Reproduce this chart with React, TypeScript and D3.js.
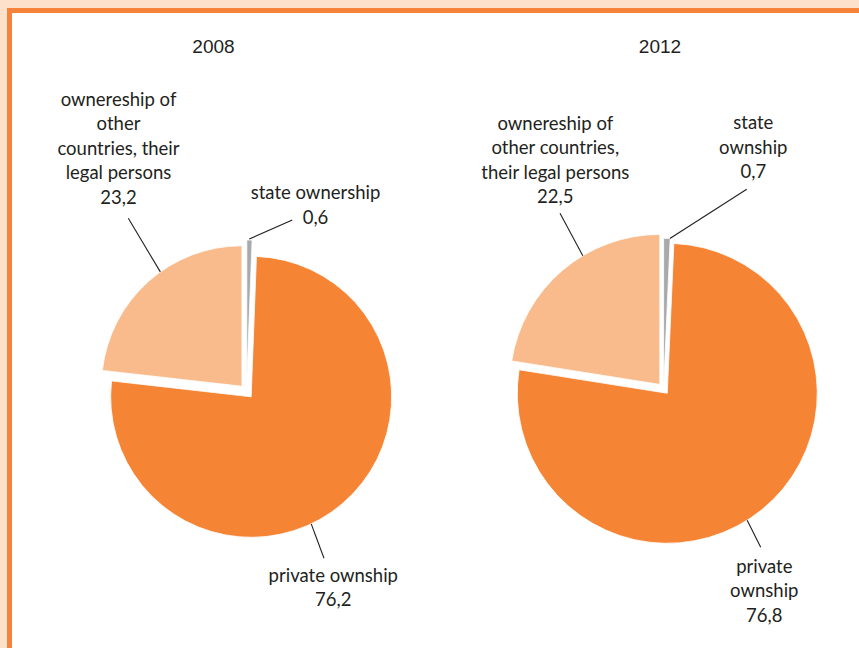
import React from "react";
import * as d3 from "d3";

// ---- data ----
const years = ["2008", "2012"];
const categories2008 = ["state ownership", "private ownship", "ownereship of other countries, their legal persons"];
const categories2012 = ["state ownship", "private ownship", "ownereship of other countries, their legal persons"];
const values2008 = [0.6, 76.2, 23.2];
const values2012 = [0.7, 76.8, 22.5];
// label wrapping as shown in the picture
const labelLines2008 = [["state ownership"], ["private ownship"], ["ownereship of", "other", "countries, their", "legal persons"]];
const labelLines2012 = [["state", "ownship"], ["private", "ownship"], ["ownereship of", "other countries,", "their legal persons"]];

const colors = ["#A7A9AC", "#F58434", "#F9BB8B"];

// ---- layout ----
const W = 859;
const H = 648;
const LH = 24.4;

const layouts = [
  {
    cx: 246.6, cy: 391.5, r: 140.5, explode: [11, 7, 7], titleX: 213.5,
    labels: [
      { x: 315.5, y: 199.3, from: [292.3, 220], angle: 1, extra: 1 },
      { x: 333.3, y: 581.7, from: [324, 558.3], angle: 154.7, extra: 0 },
      { x: 118.5, y: 106, from: [128.3, 218.3], angle: 324.5, extra: 0 },
    ],
  },
  {
    cx: 663.6, cy: 388.8, r: 150, explode: [0.5, 5.8, 5.8], titleX: 660,
    labels: [
      { x: 753.3, y: 129.3, from: [746.7, 189.3], angle: 2.4, extra: 0 },
      { x: 764.3, y: 572.7, from: [760.7, 547.3], angle: 147.8, extra: 0 },
      { x: 555.3, y: 130, from: [560, 213.3], angle: 329.1, extra: 0 },
    ],
  },
];

const fmt = (v: number) => d3.format(".1f")(v).replace(".", ",");

function Pie({ values, cats, lines, lay, year }: any) {
  const pie = d3.pie<number>().sort(null).value((d) => d)(values);
  const arc = d3.arc<any>().innerRadius(0).outerRadius(lay.r);
  return (
    <g>
      <text x={lay.titleX} y={52.5} textAnchor="middle" fontFamily="'Liberation Sans', Arial, sans-serif" fontSize={19} fill="#231F20">
        {year}
      </text>
      {pie.map((p, i) => {
        const mid = (p.startAngle + p.endAngle) / 2;
        const ox = lay.cx + Math.sin(mid) * lay.explode[i];
        const oy = lay.cy - Math.cos(mid) * lay.explode[i];
        return (
          <path key={cats[i]} d={arc(p) as string} transform={`translate(${ox},${oy})`} fill={colors[i]} stroke="#ffffff" strokeWidth={0.8} strokeLinejoin="miter" />
        );
      })}
      {pie.map((p, i) => {
        const mid = (p.startAngle + p.endAngle) / 2;
        const L = lay.labels[i];
        const ox = lay.cx + Math.sin(mid) * lay.explode[i];
        const oy = lay.cy - Math.cos(mid) * lay.explode[i];
        const a = (L.angle * Math.PI) / 180;
        const ex = ox + Math.sin(a) * (lay.r + L.extra);
        const ey = oy - Math.cos(a) * (lay.r + L.extra);
        const ls: string[] = lines[i];
        return (
          <g key={"l" + cats[i]}>
            <line x1={L.from[0]} y1={L.from[1]} x2={ex} y2={ey} stroke="#231F20" strokeWidth={1.1} />
            <text textAnchor="middle" fontFamily="Lato, 'Open Sans', sans-serif" fontSize={18.5} fill="#231F20">
              {ls.map((t, k) => (
                <tspan key={k} x={L.x} y={L.y + k * LH}>{t}</tspan>
              ))}
              <tspan x={L.x} y={L.y + ls.length * LH}>{fmt(values[i])}</tspan>
            </text>
          </g>
        );
      })}
    </g>
  );
}

export default function App() {
  return (
    <svg width={W} height={H} style={{ position: "absolute", left: 0, top: 0, display: "block" }}>
      <rect x={0} y={0} width={W} height={H} fill="#ffffff" />
      <rect x={0} y={0} width={W} height={8} fill="#FDE1CB" />
      <rect x={0} y={0} width={7} height={H} fill="#FDE1CB" />
      <rect x={7} y={8} width={W - 7} height={5} fill="#F5843A" />
      <rect x={7} y={8} width={5} height={H - 8} fill="#F5843A" />
      <Pie values={values2008} cats={categories2008} lines={labelLines2008} lay={layouts[0]} year={years[0]} />
      <Pie values={values2012} cats={categories2012} lines={labelLines2012} lay={layouts[1]} year={years[1]} />
    </svg>
  );
}
